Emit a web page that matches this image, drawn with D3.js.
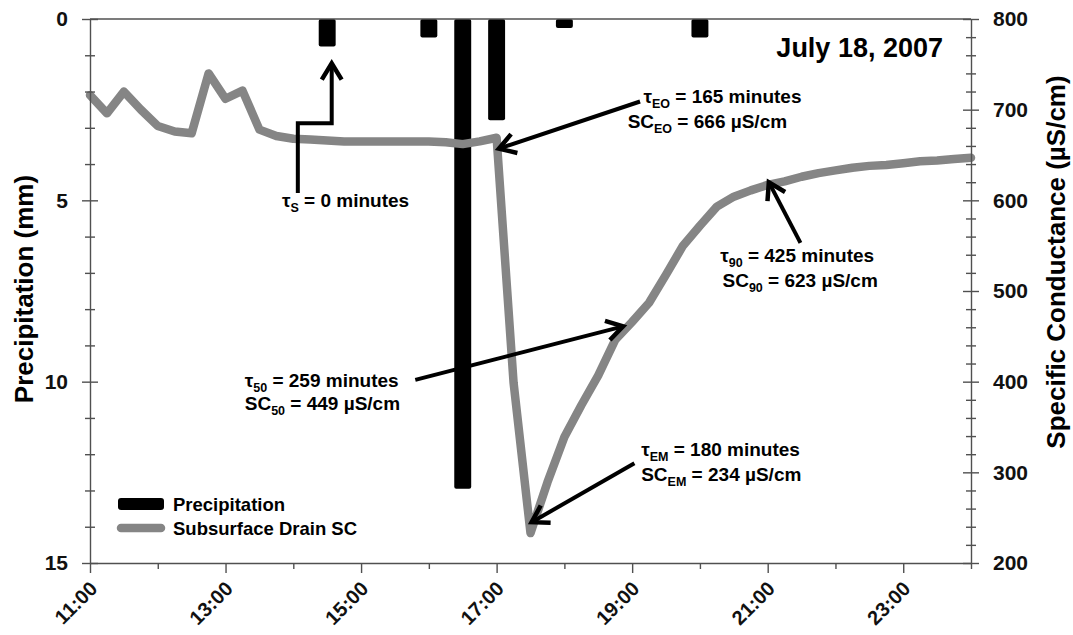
<!doctype html>
<meta charset="utf-8">
<title>July 18, 2007 - precipitation and drain SC</title>
<style>
body { margin: 0; background: #fff; }
svg { font-family: "Liberation Sans", Arial, sans-serif; font-weight: bold; }
.axis path, .axis line { stroke: #505050; stroke-width: 1.4; }
.axis text { fill: #111; }
</style>
<body>
<script src="https://d3js.org/d3.v7.min.js"></script>
<script>
// precipitation (mm), one bar per 15 min interval with rain
var precipTimes = ["14:30", "16:00", "16:30", "17:00", "18:00", "20:00"];
var precipMm = [0.76, 0.51, 12.95, 2.79, 0.25, 0.51];

// subsurface drain specific conductance (uS/cm), 15 min readings
var scTimes = [
  "11:00","11:15","11:30","11:45","12:00","12:15","12:30","12:45",
  "13:00","13:15","13:30","13:45","14:00","14:15","14:30","14:45",
  "15:00","15:15","15:30","15:45","16:00","16:15","16:30","16:45",
  "17:00","17:15","17:30","17:45","18:00","18:15","18:30","18:45",
  "19:00","19:15","19:30","19:45","20:00","20:15","20:30","20:45",
  "21:00","21:15","21:30","21:45","22:00","22:15","22:30","22:45",
  "23:00","23:15","23:30","23:45","24:00"];
var scValues = [
  716, 696, 720, 700, 682, 676, 674, 740,
  712, 721, 678, 671, 668, 667, 666, 665,
  665, 665, 665, 665, 665, 664, 662, 665,
  669, 399, 233, 289, 339, 374, 407, 446,
  466, 487, 518, 550, 572, 593, 604, 611,
  617, 621, 626, 630, 633, 636, 638, 639,
  641, 643, 644, 645.5, 647];

var xTickLabels = ["11:00", "13:00", "15:00", "17:00", "19:00", "21:00", "23:00"];
var precipTicks = [0, 5, 10, 15];
var scTicks = [200, 300, 400, 500, 600, 700, 800];

function mins(s) { var p = s.split(":"); return +p[0] * 60 + +p[1]; }

var W = 1073, H = 635;
var svg = d3.select("body").append("svg").attr("width", W).attr("height", H);

var x = d3.scaleLinear().domain([mins("11:00"), mins("24:00")]).range([90, 971]);
var yP = d3.scaleLinear().domain([0, 15]).range([19, 563]);
var yS = d3.scaleLinear().domain([200, 800]).range([563, 19]);
var hourW = x(mins("12:00")) - x(mins("11:00"));

// bars
svg.append("g").selectAll("rect").data(precipMm).join("rect")
  .attr("x", function(d, i) { return x(mins(precipTimes[i])) - hourW / 8; })
  .attr("y", yP(0))
  .attr("width", hourW / 4)
  .attr("height", function(d) { return yP(d) - yP(0); })
  .attr("rx", 2)
  .attr("fill", "#000");

// SC line
var line = d3.line()
  .x(function(d, i) { return x(mins(scTimes[i])); })
  .y(function(d) { return yS(d); });
svg.append("path").datum(scValues)
  .attr("d", line)
  .attr("fill", "none")
  .attr("stroke", "#858585")
  .attr("stroke-width", 8.5)
  .attr("stroke-linejoin", "round")
  .attr("stroke-linecap", "round");

// left axis
var minorP = d3.range(0, 16, 1);
var gl = svg.append("g").attr("class", "axis").attr("transform", "translate(" + x.range()[0] + ",0)")
  .call(d3.axisLeft(yP).tickValues(minorP).tickSize(0).tickSizeOuter(0).tickPadding(22)
    .tickFormat(function(d) { return precipTicks.indexOf(d) >= 0 ? d : ""; }));
gl.selectAll(".tick line").attr("x1", function(d) { return d % 5 ? 5 : 8; })
  .attr("x2", function(d) { return d % 5 ? -5 : -8; });
gl.selectAll("text").style("font-size", "21px");

// right axis
var minorS = d3.range(200, 801, 20);
var gr = svg.append("g").attr("class", "axis").attr("transform", "translate(" + x.range()[1] + ",0)")
  .call(d3.axisRight(yS).tickValues(minorS).tickSize(0).tickSizeOuter(0).tickPadding(22)
    .tickFormat(function(d) { return scTicks.indexOf(d) >= 0 ? d : ""; }));
gr.selectAll(".tick line").attr("x1", function(d) { return d % 100 ? -5 : -8; })
  .attr("x2", function(d) { return d % 100 ? 5 : 8; });
gr.selectAll("text").style("font-size", "21px");

// bottom axis
var hours = d3.range(mins("11:00"), mins("24:00") + 1, 60);
function hhmm(m) { return Math.floor(m / 60) + ":00"; }
var gb = svg.append("g").attr("class", "axis").attr("transform", "translate(0," + yP.range()[1] + ")")
  .call(d3.axisBottom(x).tickValues(hours).tickSizeOuter(0).tickSize(0)
    .tickFormat(function(d) { return xTickLabels.indexOf(hhmm(d)) >= 0 ? hhmm(d) : ""; }));
gb.selectAll(".tick line").attr("y2", function(d) { return xTickLabels.indexOf(hhmm(d)) >= 0 ? 10 : 6; });
gb.selectAll("text")
  .style("font-size", "20px")
  .attr("text-anchor", "end")
  .attr("dy", null)
  .attr("y", 0)
  .attr("transform", "translate(8,27) rotate(-45)");

// top border
svg.append("line").attr("x1", x.range()[0]).attr("x2", x.range()[1])
  .attr("y1", yP(0)).attr("y2", yP(0)).attr("stroke", "#505050").attr("stroke-width", 1.4);

// axis titles
svg.append("text").attr("transform", "translate(33,289) rotate(-90)")
  .attr("text-anchor", "middle").style("font-size", "26px").text("Precipitation (mm)");
svg.append("text").attr("transform", "translate(1065,262) rotate(-90)")
  .attr("text-anchor", "middle").style("font-size", "26px").text("Specific Conductance (\u00b5S/cm)");

svg.append("text").attr("x", 943).attr("y", 57).attr("text-anchor", "end")
  .style("font-size", "27px").text("July 18, 2007");

// legend
var lg = svg.append("g").attr("transform", "translate(117,0)");
lg.append("rect").attr("x", 1).attr("y", 498).attr("width", 46).attr("height", 12).attr("rx", 3).attr("fill", "#000");
lg.append("line").attr("x1", 4).attr("x2", 44).attr("y1", 528).attr("y2", 528)
  .attr("stroke", "#858585").attr("stroke-width", 8.5).attr("stroke-linecap", "round");
lg.append("text").attr("x", 56).attr("y", 511).style("font-size", "18.5px").text("Precipitation");
lg.append("text").attr("x", 56).attr("y", 535).style("font-size", "18.5px").text("Subsurface Drain SC");

// annotations: points given as [time, SC value]
var annotations = [
  { path: [["14:04", 608], ["14:04", 685], ["14:34", 685], ["14:34", 751]],
    text: [{ at: ["13:50", 593], parts: ["\u03c4", "S", " = 0 minutes"] }] },
  { path: [["19:07", 709], ["17:02", 657]],
    text: [{ at: ["19:10", 707], parts: ["\u03c4", "EO", " = 165 minutes"] },
           { at: ["18:56", 680], parts: ["SC", "EO", " = 666 \u00b5S/cm"] }] },
  { path: [["21:29", 553], ["21:01", 620]],
    text: [{ at: ["20:18", 532], parts: ["\u03c4", "90", " = 425 minutes"] },
           { at: ["20:20", 504.5], parts: ["SC", "90", " = 623 \u00b5S/cm"] }] },
  { path: [["15:48", 402], ["18:52", 461]],
    text: [{ at: ["13:17", 394], parts: ["\u03c4", "50", " = 259 minutes"] },
           { at: ["13:17", 368.5], parts: ["SC", "50", " = 449 \u00b5S/cm"] }] },
  { path: [["19:02", 310], ["17:31", 245]],
    text: [{ at: ["19:08", 318], parts: ["\u03c4", "EM", " = 180 minutes"] },
           { at: ["19:08", 290.5], parts: ["SC", "EM", " = 234 \u00b5S/cm"] }] }
];

var ag = svg.append("g");
annotations.forEach(function(a) {
  var pts = a.path.map(function(p) { return [x(mins(p[0])), yS(p[1])]; });
  ag.append("path").attr("d", d3.line()(pts))
    .attr("fill", "none").attr("stroke", "#000").attr("stroke-width", 4);
  var tip = pts[pts.length - 1], prev = pts[pts.length - 2];
  var ang = Math.atan2(prev[1] - tip[1], prev[0] - tip[0]), L = 19, th = 0.55;
  var head = [[tip[0] + L * Math.cos(ang + th), tip[1] + L * Math.sin(ang + th)], tip,
              [tip[0] + L * Math.cos(ang - th), tip[1] + L * Math.sin(ang - th)]];
  ag.append("path").attr("d", d3.line()(head))
    .attr("fill", "none").attr("stroke", "#000").attr("stroke-width", 4.5);
  a.text.forEach(function(t) {
    var tx = ag.append("text").attr("x", x(mins(t.at[0]))).attr("y", yS(t.at[1]))
      .style("font-size", "19px");
    tx.append("tspan").text(t.parts[0]);
    tx.append("tspan").attr("dy", 5).style("font-size", "12.5px").text(t.parts[1]);
    tx.append("tspan").attr("dy", -5).text(t.parts[2]);
  });
});
</script>
</body>
